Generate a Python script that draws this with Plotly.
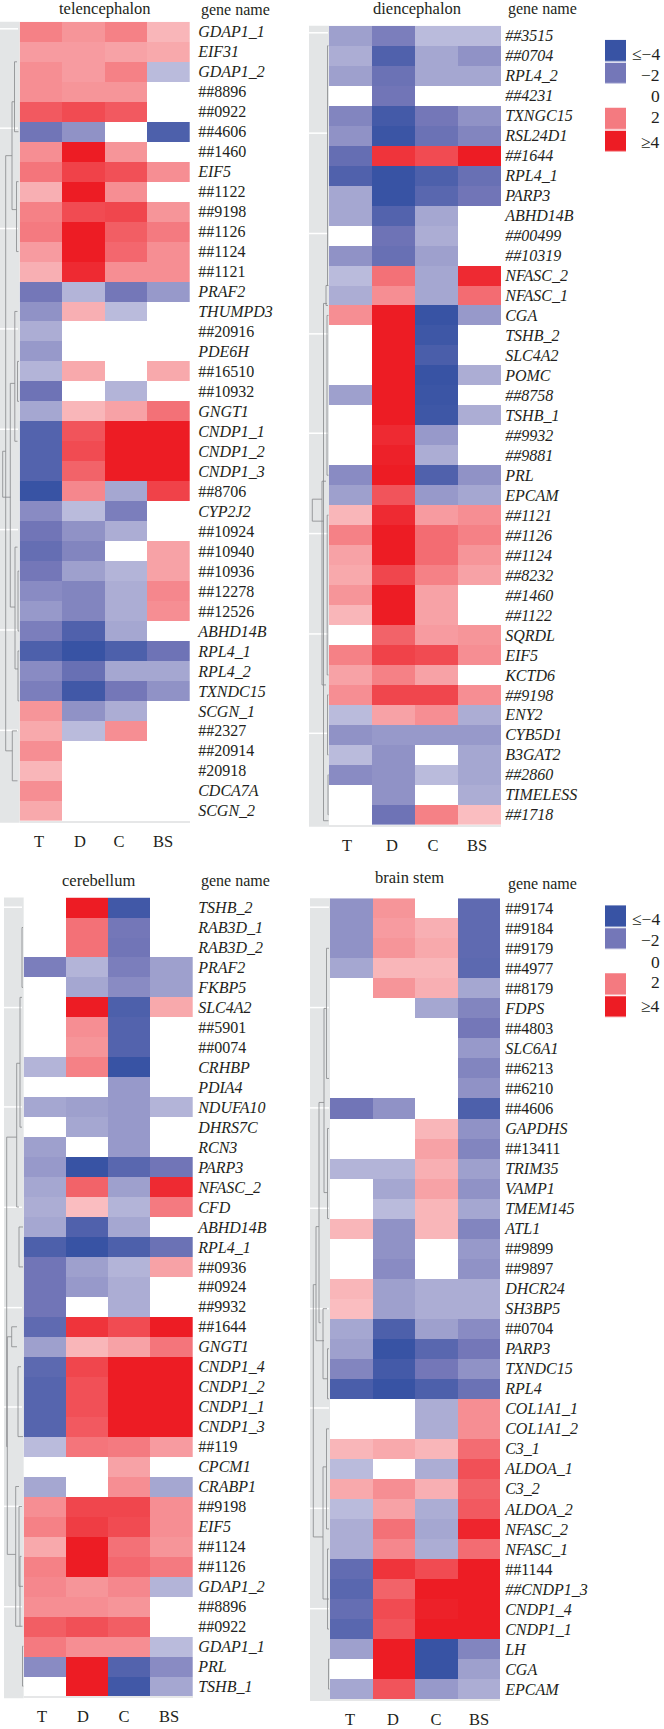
import plotly.graph_objects as go

WIDTH, HEIGHT = 664, 1729
INK = "#231f20"
FONT = "Liberation Serif"
GREY = "#e3e5e6"
LINE = "#86888a"

COLORSCALE = [[0, "#3853a4"], [0.25, "#7477b8"], [0.5, "#ffffff"], [0.75, "#f47a80"], [1, "#ed1c24"]]
REGIONS = ["T", "D", "C", "BS"]

# ---- telencephalon
TEL_GENES = ["GDAP1_1","EIF31","GDAP1_2","##8896","##0922","##4606","##1460","EIF5","##1122","##9198",
    "##1126","##1124","##1121","PRAF2","THUMPD3","##20916","PDE6H","##16510","##10932","GNGT1",
    "CNDP1_1","CNDP1_2","CNDP1_3","##8706","CYP2J2","##10924","##10940","##10936","##12278","##12526",
    "ABHD14B","RPL4_1","RPL4_2","TXNDC15","SCGN_1","##2327","##20914","#20918","CDCA7A","SCGN_2"]
TEL_VALUES = [
 [1.9,1.6,1.9,1.1],[1.5,1.5,1.4,1.3],[1.7,1.5,1.9,-1],[1.7,1.6,1.6,0],[2.7,3,2.7,0],
 [-2.1,-1.6,0,-3.3],[1.7,4,1.6,0],[2.1,3.2,2.9,1.7],[1.2,4,1.7,0],[1.9,3,3.1,1.6],
 [2,4,2.6,2],[1.5,4,2.4,1.7],[1.2,3.7,1.7,1.7],[-2,-1.1,-2,-1.5],[-1.6,1.2,-1,0],
 [-1.2,0,0,0],[-1.5,0,0,0],[-1.1,1.3,0,1.3],[-2.2,0,-1.1,0],[-1.3,1.1,1.4,2.2],
 [-3.1,2.8,4,4],[-3.1,3,4,4],[-3.1,2.5,4,4],[-4,1.8,-1.3,3.2],[-1.7,-1,-1.9,0],
 [-2.1,-1.6,-1.2,0],[-2.5,-1.8,0,1.4],[-2,-1.4,-1.1,1.4],[-1.7,-1.8,-1.2,1.8],[-1.5,-1.8,-1.2,1.7],
 [-1.9,-3.2,-1.3,0],[-3.3,-4,-3.3,-2.2],[-1.7,-2.4,-1.3,-1.3],[-1.9,-3.7,-2,-1.6],[1.6,-1.6,-1.2,0],
 [1.3,-1,1.7,0],[1.7,0,0,0],[1.1,0,0,0],[1.7,0,0,0],[1.3,0,0,0]]

# ---- diencephalon
DIE_GENES = ["##3515","##0704","RPL4_2","##4231","TXNGC15","RSL24D1","##1644","RPL4_1","PARP3","ABHD14B",
    "##00499","##10319","NFASC_2","NFASC_1","CGA","TSHB_2","SLC4A2","POMC","##8758","TSHB_1",
    "##9932","##9881","PRL","EPCAM","##1121","##1126","##1124","##8232","##1460","##1122",
    "SQRDL","EIF5","KCTD6","##9198","ENY2","CYB5D1","B3GAT2","##2860","TIMELESS","##1718"]
DIE_VALUES = [
 [-1.4,-1.9,-1,-1],[-1.2,-3.2,-1.3,-1.6],[-1.4,-2.3,-1.3,-1.3],[0,-2.1,0,0],[-1.8,-3.6,-2,-1.6],
 [-1.6,-3.9,-2.3,-1.8],[-2.5,3.5,3,4],[-3.2,-4,-3.3,-2.4],[-1.3,-4,-2.9,-2.1],[-1.3,-3.1,-1.3,0],
 [0,-2.2,-1.2,0],[-1.6,-2.4,-1.4,0],[-1,2.2,-1.3,3.7],[-1.2,1.7,-1.3,2.3],[1.7,4,-4,-1.5],
 [0,4,-3.8,0],[0,4,-3.4,0],[0,4,-4,-1.2],[-1.4,4,-3.9,0],[0,4,-3.8,-1.2],
 [0,3.7,-1.5,0],[0,3.9,-1.2,0],[-1.7,4,-3.2,-1.6],[-1.4,2.8,-1.5,-1.3],[1.1,3.7,1.5,1.7],
 [1.9,4,2.3,1.9],[1.4,4,2.3,1.6],[1.3,3.1,1.9,1.4],[1.6,4,1.4,0],[1.1,4,1.4,0],
 [0,2.5,1.5,1.6],[1.9,3.2,3,1.7],[1.4,1.9,1.4,0],[1.7,3.1,3.1,1.7],[-1,1.4,1.7,-1.2],
 [-1.6,-1.5,-1.5,-1.5],[-1,-1.6,0,-1.3],[-1.7,-1.6,-1,-1.3],[0,-1.6,0,-1.2],[0,-2.2,1.9,1]]

# ---- cerebellum
CER_GENES = ["TSHB_2","RAB3D_1","RAB3D_2","PRAF2","FKBP5","SLC4A2","##5901","##0074","CRHBP","PDIA4",
    "NDUFA10","DHRS7C","RCN3","PARP3","NFASC_2","CFD","ABHD14B","RPL4_1","##0936","##0924",
    "##9932","##1644","GNGT1","CNDP1_4","CNDP1_2","CNDP1_1","CNDP1_3","##119","CPCM1","CRABP1",
    "##9198","EIF5","##1124","##1126","GDAP1_2","##8896","##0922","GDAP1_1","PRL","TSHB_1"]
CER_VALUES = [
 [0,4,-3.7,0],[0,2.2,-2,0],[0,2.2,-2.1,0],[-1.9,-1.1,-1.9,-1.4],[0,-1.3,-1.7,-1.4],
 [0,4,-3.3,1.3],[0,1.7,-3.1,0],[0,1.6,-3.1,0],[-1.1,1.9,-4,0],[0,0,-1.5,0],
 [-1.3,-1.4,-1.5,-1.1],[0,-1.3,-1.5,0],[-1.4,0,-1.5,0],[-1.5,-4,-2.9,-2.1],[-1.3,2.5,-1.4,3.7],
 [-1.2,1,-1.1,2],[-1.3,-3.2,-1.3,0],[-3.3,-4,-3.3,-2.3],[-2.1,-1.4,-1.1,1.4],[-2.1,-1.5,-1.2,0],
 [-2.1,0,-1.2,0],[-2.7,3.5,3,4],[-1.4,1.1,1.4,2.1],[-2.8,3.1,4,4],[-3,2.9,4,4],
 [-3,2.9,4,4],[-3,2.7,4,4],[-1,2.1,2,1.5],[0,0,1.4,0],[-1.3,0,1.7,-1.3],
 [1.7,3.1,3.1,1.7],[1.9,3.3,3,1.7],[1.3,4,2.2,1.6],[1.9,4,2.4,2],[1.8,1.6,1.8,-1.1],
 [1.7,1.7,1.6,0],[2.6,2.9,2.6,0],[2,1.7,1.7,-1],[-1.7,4,-3.1,-1.7],[0,4,-3.7,-1.3]]

# ---- brain stem
BST_GENES = ["##9174","##9184","##9179","##4977","##8179","FDPS","##4803","SLC6A1","##6213","##6210",
    "##4606","GAPDHS","##13411","TRIM35","VAMP1","TMEM145","ATL1","##9899","##9897","DHCR24",
    "SH3BP5","##0704","PARP3","TXNDC15","RPL4","COL1A1_1","COL1A1_2","C3_1","ALDOA_1","C3_2",
    "ALDOA_2","NFASC_2","NFASC_1","##1144","##CNDP1_3","CNDP1_4","CNDP1_1","LH","CGA","EPCAM"]
BST_VALUES = [
 [-1.6,1.6,0,-2.7],[-1.6,1.5,1.2,-2.7],[-1.6,1.6,1.3,-2.7],[-1.3,1.1,1.1,-2.8],[0,1.6,1.2,-1.3],
 [0,0,-1.3,-1.8],[0,0,0,-2],[0,0,0,-1.5],[0,0,0,-1.8],[0,0,0,-1.6],
 [-2.1,-1.6,0,-3.3],[0,0,1.1,-1.6],[0,0,1.4,-1.8],[-1.1,-1.1,1.2,-1.4],[0,-1.3,1.4,-1.6],
 [0,-1,1.1,-1.3],[1.1,-1.6,1.1,-1.8],[0,-1.6,0,-1.5],[0,-1.7,0,-1.6],[1.1,-1.4,-1.2,-1.2],
 [1,-1.4,-1.2,-1.2],[-1.3,-3.3,-1.4,-1.7],[-1.4,-4,-2.9,-2],[-1.8,-3.6,-2,-1.6],[-3.4,-4,-3.3,-2.3],
 [0,0,-1.2,1.7],[0,0,-1.2,1.7],[1.1,1.3,1.1,2.3],[-1,0,-1.2,2.9],[1.3,1.7,1.2,2.5],
 [-1,1.4,-1.2,2.7],[-1.2,2.2,-1.3,3.8],[-1.2,1.8,-1.2,2.3],[-2.6,3.5,3,4],[-2.9,2.5,4,4],
 [-2.5,3,3.9,4],[-2.9,2.8,4,4],[-1.4,4,-4,-1.8],[0,4,-4,-1.4],[-1.3,2.8,-1.5,-1.2]]

# ---- dendrograms: (first row, last row, merge height, height of upper child, height of lower child)
TEL_TREE = [(21,23.3,2.7,5.7,10.5),(6.2,36,5.7,12,12.3),(3.5,8.9,12,14.5,16.5),(1.5,5,14.5,17,18.5),
    (7.5,11,16.5,18.5,18.5),(35,37.5,12.3,17,17.5),(17.6,28.8,10.3,14.8,15),(14,20.5,14.8,17.5,17.5),
    (25.8,31.9,15,17.5,18),(16.5,18.5,17.5,19,19),(27,30,18,19.2,19.2),(31,33.5,18,19.2,19.2)]
DIE_TREE = [(23.2,24.3,3.3,13,14.5),(13.4,39.3,14.5,18,19.5),(22.3,32.5,13,17,17),(0.5,12.5,18.5,19.5,19.5),
    (12.5,13.5,17,19,19),(14,22,18,19.5,19.5),(24,32,18.2,19.5,19.5),(33,36,18.5,19.5,19.5),(37,39,19,19.5,19.5)]
CER_TREE = [(11.5,27,2.7,12.7,3.3),(21.5,32.4,3.3,7.7,11.7),(21,22,7.7,13,13),(7.8,15,12.7,16,15),
    (4.5,11,16,18,18),(29,36,11.7,15,16),(32.5,36,16,17.5,18.5),(30,34,15,18,19),(16,18,15,19,19),
    (23,26.5,14,17,19),(1,4,18,19,19),(37,39,18.5,19.5,19.5)]
BST_TREE = [(18.8,31.4,3.3,6,13),(15.9,21.6,6,9,14),(9.7,20.7,9,14,10.8),(5,14.2,14,16.5,17.5),
    (2,8.5,16.5,19,19),(11,15.5,17.5,19,19),(20,23.5,13,17,17.5),(22,24.5,17.5,19,19),
    (27.9,34.5,13,16.5,19),(26,31,16.5,19,19),(37.5,39,18.5,19.5,19.5),(32,36,17.5,19,19)]

# ---- legend
LEGEND_STEPS = [-4, -2, 0, 2, 4]
LEGEND_TEXT = ["\u2264\u22124", "\u22122", "0", "2", "\u22654"]

# ---- layout of the four panels, in pixels of the page
PANELS = [
 dict(title="telencephalon", genes=TEL_GENES, values=TEL_VALUES, tree=TEL_TREE, x0=19.7, x1=190, y0=22, y1=826,
      grey0=0, title_x=105, title_y=9, name_x=199, name_y=10, gap=4, all_italic=False,
      xticks=[39, 80, 119, 163], tick_y=842, rules=[29,129,230,331,432,533,634,735], rule_end=18),
 dict(title="diencephalon", genes=DIE_GENES, values=DIE_VALUES, tree=DIE_TREE, x0=329, x1=501, y0=26, y1=830,
      grey0=309, title_x=417, title_y=9, name_x=506, name_y=9, gap=0, all_italic=True,
      xticks=[347, 392, 433, 477], tick_y=842, rules=[33,134,235,336,436,537,638,738], rule_end=328),
 dict(title="cerebellum", genes=CER_GENES, values=CER_VALUES, tree=CER_TREE, x0=23.7, x1=193, y0=903.3, y1=1707,
      grey0=4, title_x=98, title_y=886, name_x=199, name_y=887, gap=1, all_italic=False,
      xticks=[42, 83, 124, 169], tick_y=1720, rules=[913,1014,1114,1215,1316,1416,1516,1617], rule_end=22),
 dict(title="brain stem", genes=BST_GENES, values=BST_VALUES, tree=BST_TREE, x0=330, x1=500, y0=904, y1=1710,
      grey0=310, title_x=409, title_y=883, name_x=506, name_y=890, gap=1, all_italic=False,
      xticks=[350, 393, 436, 479], tick_y=1720, rules=[913,1014,1115,1216,1317,1417,1518,1619], rule_end=329),
]
LEGENDS = [dict(x0=605, x1=626, y0=40, y1=154, label_ys=[54,75,97,118,143]),
           dict(x0=605, x1=626, y0=911, y1=1025, label_ys=[925,946,968,988,1012])]


def px(x):
    return x / WIDTH


def py(y):
    return 1 - y / HEIGHT


def gene_label(name, all_italic):
    italic = all_italic or not name.startswith("#") or "CNDP" in name
    return f"<i>{name}</i>" if italic else name


def tree_path(tree):
    xs, ys = [], []
    for top, bottom, h, h_top, h_bot in tree:
        xs += [h_top, h, h, h_bot, None]
        ys += [top, top, bottom, bottom, None]
    return xs, ys


fig = go.Figure()
layout_axes, shapes, annotations = {}, [], []

for i, p in enumerate(PANELS):
    xa, ya, xd = f"x{3*i+1}", f"y{3*i+1}", f"x{3*i+2}"
    xkey, ykey, xdkey = f"xaxis{3*i+1}", f"yaxis{3*i+1}", f"xaxis{3*i+2}"
    rows = list(range(len(p["genes"])))
    fig.add_trace(go.Heatmap(z=p["values"], x=list(range(4)), y=rows, zmin=-4, zmax=4,
                             colorscale=COLORSCALE, showscale=False, xaxis=xa, yaxis=ya))
    cell = (p["x1"] - p["x0"]) / 4
    layout_axes[xkey] = dict(domain=[px(p["x0"]), px(p["x1"])], range=[-0.5, 3.5], anchor=ya,
                             tickmode="array",
                             tickvals=[(t - p["x0"]) / cell - 0.5 for t in p["xticks"]], ticktext=REGIONS,
                             ticks="outside", ticklen=4, tickcolor="rgba(0,0,0,0)",
                             showgrid=False, zeroline=False, showline=True, linecolor="#e6e7e8", linewidth=2,
                             tickfont=dict(family=FONT, size=16.5, color=INK))
    layout_axes[ykey] = dict(domain=[py(p["y1"]), py(p["y0"])], range=[39.5, -0.5], anchor=xa, side="right",
                             tickmode="array", tickvals=rows,
                             ticktext=[gene_label(g, p["all_italic"]) for g in p["genes"]],
                             ticks="outside", ticklen=p["gap"], tickcolor="rgba(0,0,0,0)",
                             showgrid=False, zeroline=False,
                             tickfont=dict(family=FONT, size=16, color=INK))
    # grey strip holding the dendrogram
    shapes.append(dict(type="rect", xref="paper", yref="paper", layer="below", line_width=0, fillcolor=GREY,
                       x0=px(p["grey0"]), x1=px(p["x0"]), y0=py(p["y1"] + 2), y1=py(p["y0"])))
    for r in p["rules"]:
        shapes.append(dict(type="line", xref="paper", yref="paper", layer="below",
                           x0=px(p["grey0"]), x1=px(p["rule_end"]), y0=py(r), y1=py(r),
                           line=dict(color="#ffffff", width=1.5)))
    # dendrogram
    dx, dy = tree_path(p["tree"])
    fig.add_trace(go.Scatter(x=dx, y=dy, mode="lines", xaxis=xd, yaxis=ya, hoverinfo="skip",
                             line=dict(color=LINE, width=0.8), showlegend=False, cliponaxis=False))
    layout_axes[xdkey] = dict(domain=[px(p["grey0"]), px(p["x0"])], range=[0, p["x0"] - p["grey0"]],
                              anchor=ya, visible=False, fixedrange=True)
    annotations.append(dict(text=p["title"], x=px(p["title_x"]), y=py(p["title_y"]), xref="paper", yref="paper",
                            xanchor="center", yanchor="middle", showarrow=False,
                            font=dict(family=FONT, size=16.5, color=INK)))
    annotations.append(dict(text="gene name", x=px(p["name_x"]), y=py(p["name_y"]), xref="paper", yref="paper",
                            xanchor="left", yanchor="middle", showarrow=False,
                            font=dict(family=FONT, size=16, color=INK)))

for j, leg in enumerate(LEGENDS):
    n = 3 * len(PANELS) + 2 * j + 1
    fig.add_trace(go.Heatmap(z=[[s] for s in LEGEND_STEPS], zmin=-4, zmax=4, colorscale=COLORSCALE, showscale=False,
                             ygap=1.5, xaxis=f"x{n}", yaxis=f"y{n}", hoverinfo="skip"))
    layout_axes[f"xaxis{n}"] = dict(domain=[px(leg["x0"]), px(leg["x1"])], anchor=f"y{n}", visible=False)
    layout_axes[f"yaxis{n}"] = dict(domain=[py(leg["y1"]), py(leg["y0"])], range=[4.5, -0.5], anchor=f"x{n}", visible=False)
    for txt, ly in zip(LEGEND_TEXT, leg["label_ys"]):
        annotations.append(dict(text=txt, x=px(662), y=py(ly), xref="paper", yref="paper", xanchor="right",
                                yanchor="middle", showarrow=False, font=dict(family=FONT, size=17.5, color=INK)))

fig.update_layout(width=WIDTH, height=HEIGHT, margin=dict(l=0, r=0, t=0, b=0), autosize=False,
                  paper_bgcolor="white", plot_bgcolor="white", showlegend=False,
                  shapes=shapes, annotations=annotations, **layout_axes)
fig.write_html("out.html", config={"displayModeBar": False},
               post_script="document.body.style.margin='0';document.documentElement.style.overflow='hidden';")
